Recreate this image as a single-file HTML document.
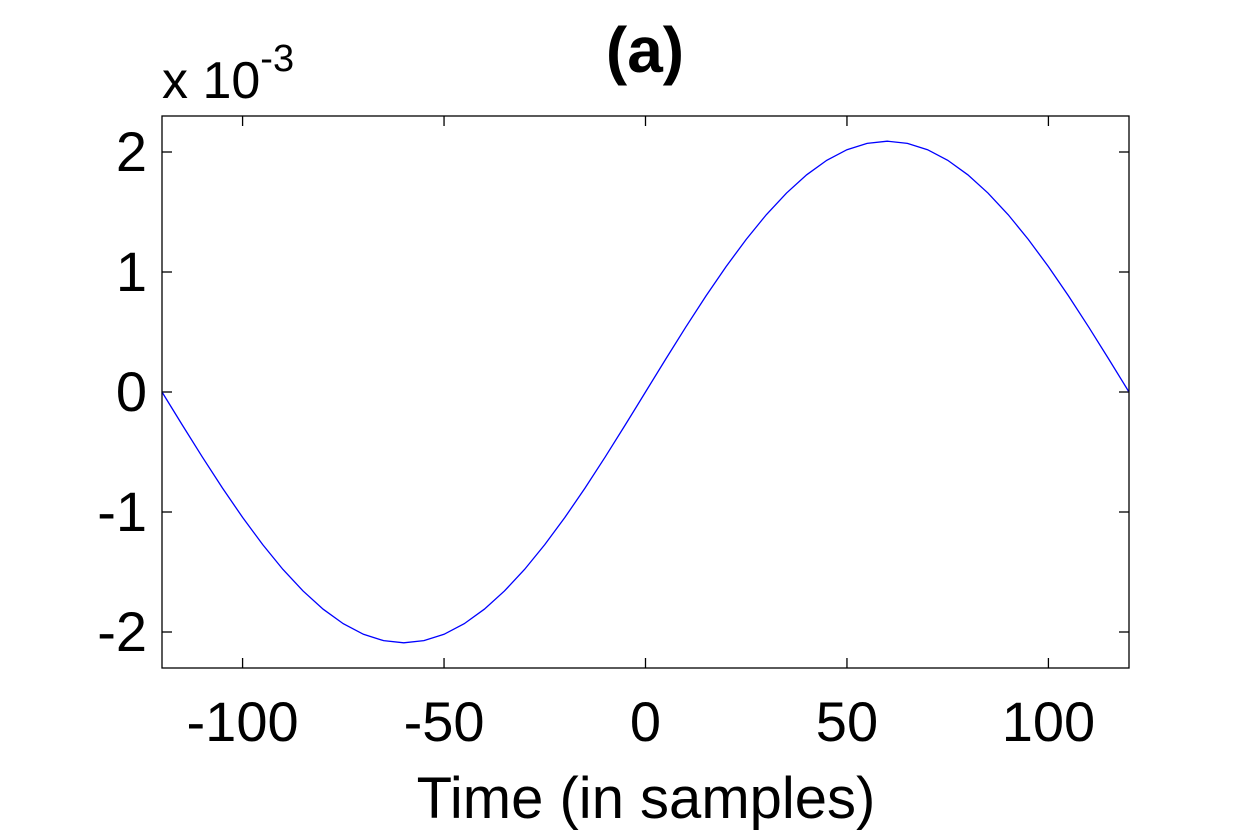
<!DOCTYPE html>
<html><head><meta charset="utf-8"><style>
body{margin:0;background:#fff}
svg{display:block}
text{font-family:"Liberation Sans",sans-serif;fill:#000}
</style></head><body>
<svg id="chart" width="1248" height="832">
<rect width="1248" height="832" fill="#fff"/>
<g id="ticks"></g>
<polyline id="curve" fill="none" stroke="#0000ff" stroke-width="1.3"/>
<rect x="162" y="116" width="967" height="552" fill="none" stroke="#000" stroke-width="1.3"/>
<text x="645" y="72" font-size="64" font-weight="bold" text-anchor="middle">(a)</text>
<text x="162" y="98" font-size="52">x 10<tspan dy="-27" font-size="38">-3</tspan></text>
<text x="646" y="818" font-size="58" text-anchor="middle">Time (in samples)</text>
</svg>
<script>
const xTicks=[-100,-50,0,50,100];
const yTicks=[-2,-1,0,1,2];
const xs=[-120,-115,-110,-105,-100,-95,-90,-85,-80,-75,-70,-65,-60,-55,-50,-45,-40,-35,-30,-25,-20,-15,-10,-5,0,5,10,15,20,25,30,35,40,45,50,55,60,65,70,75,80,85,90,95,100,105,110,115,120];
const ys=[0,-0.273,-0.541,-0.800,-1.045,-1.272,-1.478,-1.658,-1.810,-1.931,-2.019,-2.072,-2.09,-2.072,-2.019,-1.931,-1.810,-1.658,-1.478,-1.272,-1.045,-0.800,-0.541,-0.273,0,0.273,0.541,0.800,1.045,1.272,1.478,1.658,1.810,1.931,2.019,2.072,2.09,2.072,2.019,1.931,1.810,1.658,1.478,1.272,1.045,0.800,0.541,0.273,0];
const L=162,R=1129,T=116,B=668,xmin=-120,xmax=120,ymin=-2.3,ymax=2.3;
const sx=v=>L+(v-xmin)/(xmax-xmin)*(R-L);
const sy=v=>B-(v-ymin)/(ymax-ymin)*(B-T);
const NS="http://www.w3.org/2000/svg";
const g=document.getElementById('ticks');
function el(t,a){const e=document.createElementNS(NS,t);for(const k in a)e.setAttribute(k,a[k]);g.appendChild(e);return e;}
xTicks.forEach(v=>{
 const x=sx(v);
 const t1=el('line',{x1:x,x2:x,y1:B,y2:B-10,stroke:'#000','stroke-width':1.3});
 
 
 const t2=el('line',{x1:x,x2:x,y1:T,y2:T+10,stroke:'#000','stroke-width':1.3});
 
 
 const tx=el('text',{x:x,y:741,'font-size':56,'text-anchor':'middle'});
 tx.textContent=v;
 
 
});
yTicks.forEach(v=>{
 const y=sy(v);
 const t1=el('line',{x1:L,x2:L+10,y1:y,y2:y,stroke:'#000','stroke-width':1.3});
 
 
 const t2=el('line',{x1:R,x2:R-10,y1:y,y2:y,stroke:'#000','stroke-width':1.3});
 
 
 const tx=el('text',{x:147,y:y+19,'font-size':56,'text-anchor':'end'});
 tx.textContent=v;
 
 
});
document.getElementById('curve').setAttribute('points',xs.map((x,i)=>sx(x)+','+sy(ys[i])).join(' '));
</script>
</body></html>
